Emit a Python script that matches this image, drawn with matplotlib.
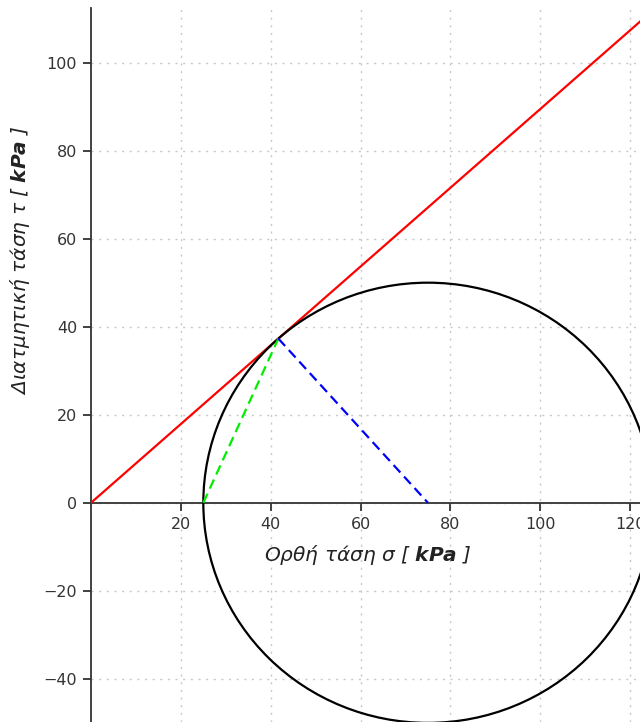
import numpy as np
import matplotlib
matplotlib.use('Agg')
import matplotlib.pyplot as plt
from matplotlib.patches import Circle

# --- data (kPa) ---
circle_center = 75.0
circle_radius = 50.0
pole_sigma = 25.0
tangent_sigma = 41.7
tangent_tau = 37.3
envelope_sigma = [0.0, 130.0]
envelope_tau = [0.0, 130.0 * tangent_tau / tangent_sigma]
x_ticks = [20, 40, 60, 80, 100, 120]
y_ticks = [-40, -20, 0, 20, 40, 60, 80, 100]

xlabel = "Ορθή τάση σ [ $\\mathbfit{kPa}$ ]"
ylabel = "Διατμητική τάση τ [ $\\mathbfit{kPa}$ ]"

W, H = 640, 722
fig = plt.figure(figsize=(W / 100, H / 100), dpi=100)
ax = fig.add_axes([91 / W, 0, 1 - 91 / W, 714 / H])

ax.set_xlim(0, 122.2)
ax.set_ylim(-49.8, 112.4)

# grid
ax.set_xticks(x_ticks)
ax.set_yticks(y_ticks)
ax.grid(True, color='#c8c8c8', linestyle=(0, (1.5, 4)), linewidth=1.0)
ax.set_axisbelow(True)

# spines
for s in ['top', 'right']:
    ax.spines[s].set_visible(False)
ax.spines['bottom'].set_position(('data', 0))
ax.spines['left'].set_color('#333333')
ax.spines['bottom'].set_color('#333333')
ax.spines['left'].set_linewidth(1.3)
ax.spines['bottom'].set_linewidth(1.3)

ax.tick_params(axis='both', colors='#333333', labelcolor='#333333',
               labelsize=11.5, length=6, width=1.3, direction='out', pad=4)

# failure envelope
ax.plot(envelope_sigma, envelope_tau, color='#ff0000', lw=1.6, zorder=3)

# Mohr circle
circ = Circle((circle_center, 0), circle_radius, fill=False, edgecolor='black',
              lw=1.6, zorder=3)
ax.add_patch(circ)

# pole -> tangent point
ax.plot([pole_sigma, tangent_sigma], [0, tangent_tau], color='#00ee00', lw=1.6,
        dashes=(4.5, 2.5), zorder=4)
# tangent point -> centre
ax.plot([tangent_sigma, circle_center], [tangent_tau, 0], color='#0000ff', lw=1.6,
        dashes=(4.5, 2.5), zorder=4)

# labels
ax.text(0.505, 0.2507, xlabel, transform=ax.transAxes, ha='center', va='top',
        fontsize=14.5, style='italic', color='#222222')
fig.text(20 / W, 1 - 260 / H, ylabel, rotation=90, ha='center', va='center',
         fontsize=14.5, style='italic', color='#222222')

fig.savefig('out.png', dpi=100)
